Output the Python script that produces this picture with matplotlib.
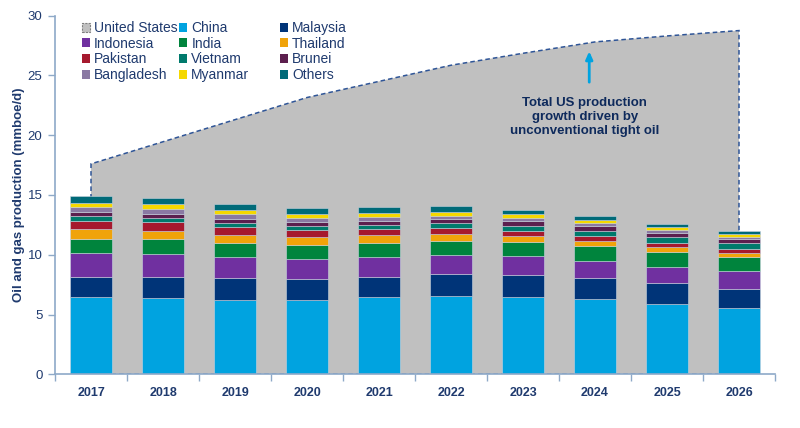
"""Oil and gas production: Asian producers (stacked bars) against the US total (area)."""

import matplotlib
matplotlib.use("Agg")
import matplotlib.pyplot as plt
from matplotlib.legend import Legend
from matplotlib.patches import Patch
import numpy as np

plt.rcParams["font.family"] = ["Liberation Sans", "DejaVu Sans"]

YEARS = ["2017", "2018", "2019", "2020", "2021", "2022", "2023", "2024", "2025", "2026"]

US_TOTAL = [17.6, 19.45, 21.3, 23.15, 24.5, 25.85, 26.85, 27.8, 28.3, 28.75]

CHINA = [6.43, 6.34, 6.18, 6.23, 6.43, 6.54, 6.48, 6.29, 5.92, 5.51]
MALAYSIA = [1.73, 1.82, 1.87, 1.76, 1.73, 1.87, 1.85, 1.76, 1.71, 1.61]
INDONESIA = [1.95, 1.90, 1.73, 1.65, 1.65, 1.54, 1.54, 1.40, 1.34, 1.49]
INDIA = [1.21, 1.23, 1.20, 1.15, 1.20, 1.22, 1.17, 1.25, 1.28, 1.17]
THAILAND = [0.81, 0.72, 0.70, 0.69, 0.64, 0.59, 0.55, 0.47, 0.40, 0.33]
PAKISTAN = [0.69, 0.70, 0.64, 0.59, 0.48, 0.48, 0.42, 0.40, 0.36, 0.34]
VIETNAM = [0.42, 0.39, 0.36, 0.36, 0.39, 0.42, 0.42, 0.42, 0.50, 0.51]
BRUNEI = [0.34, 0.34, 0.31, 0.28, 0.30, 0.36, 0.39, 0.42, 0.33, 0.36]
BANGLADESH = [0.45, 0.42, 0.42, 0.39, 0.34, 0.25, 0.28, 0.22, 0.23, 0.16]
MYANMAR = [0.33, 0.36, 0.31, 0.34, 0.31, 0.31, 0.31, 0.28, 0.28, 0.28]
OTHERS = [0.56, 0.50, 0.53, 0.50, 0.53, 0.47, 0.34, 0.31, 0.25, 0.20]

SERIES = [
    ("China", CHINA, "#00A3E0"),
    ("Malaysia", MALAYSIA, "#003478"),
    ("Indonesia", INDONESIA, "#7030A0"),
    ("India", INDIA, "#00843D"),
    ("Thailand", THAILAND, "#F0A30A"),
    ("Pakistan", PAKISTAN, "#A6192E"),
    ("Vietnam", VIETNAM, "#007A6C"),
    ("Brunei", BRUNEI, "#5C1F4E"),
    ("Bangladesh", BANGLADESH, "#8A79A3"),
    ("Myanmar", MYANMAR, "#F5D800"),
    ("Others", OTHERS, "#006A78"),
]

NAVY = "#1F3A6E"
AXIS_COLOR = "#8EA9C8"
US_FILL = "#C0C0C0"
US_EDGE = "#2F5597"

fig = plt.figure(figsize=(8.0, 4.28), dpi=100)
ax = fig.add_axes([0.06875, 0.1255, 0.9, 0.838])

x = np.arange(len(YEARS))

# US total as an area behind the bars
us = np.array(US_TOTAL)
poly_x = np.concatenate([[x[0]], x, [x[-1]]])
poly_y = np.concatenate([[0], us, [0]])
ax.fill(poly_x, poly_y, facecolor=US_FILL, edgecolor=US_EDGE,
        linestyle=(0, (3, 2)), linewidth=1.1, zorder=1)

bottom = np.zeros(len(YEARS))
for name, values, color in SERIES:
    vals = np.array(values)
    ax.bar(x, vals, width=0.57, bottom=bottom, color=color,
           edgecolor="#C9D3DE", linewidth=0.4, zorder=2)
    bottom += vals

ax.annotate("", xy=(6.92, 27.25), xytext=(6.92, 24.2),
            arrowprops=dict(arrowstyle="-|>,head_length=0.45,head_width=0.2",
                            color="#00A3E0", lw=2), zorder=4)
ax.text(6.86, 21.5, "Total US production\ngrowth driven by\nunconventional tight oil",
        ha="center", va="center", fontsize=9.5, fontweight="bold",
        color="#0E2A5C", linespacing=1.2, zorder=4)

ax.set_xlim(-0.5, len(YEARS) - 0.5)
ax.set_ylim(0, 30)
ax.set_yticks(np.arange(0, 31, 5))
ax.set_xticks(x)
ax.set_xticklabels(YEARS, fontweight="bold", fontsize=9, color=NAVY)
ax.set_xticks(np.arange(-0.5, len(YEARS), 1), minor=True)
ax.tick_params(axis="x", which="major", length=0, pad=9)
ax.tick_params(axis="x", which="minor", length=5, color=AXIS_COLOR, width=1)
ax.tick_params(axis="y", length=5, color=AXIS_COLOR, width=1,
               labelsize=9.5, labelcolor=NAVY, pad=4)
ax.set_ylabel("Oil and gas production (mmboe/d)", fontsize=9.5,
              fontweight="bold", color=NAVY, labelpad=2)

for side in ("top", "right"):
    ax.spines[side].set_visible(False)
for side in ("left", "bottom"):
    ax.spines[side].set_color(AXIS_COLOR)
    ax.spines[side].set_linewidth(1.2)

# legend laid out row by row in three columns, like the source
handles = [Patch(facecolor=US_FILL, edgecolor="#7F7F7F", linestyle=(0, (2, 1)),
                 linewidth=0.8, label="United States")]
handles += [Patch(facecolor=c, edgecolor="none", label=n) for n, _, c in SERIES]

column_x = [0.037, 0.172, 0.312]
for col, x0 in enumerate(column_x):
    col_handles = handles[col::3]
    leg = Legend(ax, col_handles, [h.get_label() for h in col_handles],
                 loc="upper left", bbox_to_anchor=(x0, 0.985), frameon=False,
                 fontsize=10, labelcolor=NAVY, handlelength=0.6,
                 handleheight=0.6, handletextpad=0.3, labelspacing=0.12,
                 borderaxespad=0, borderpad=0)
    ax.add_artist(leg)

fig.savefig("out.png", dpi=100)
